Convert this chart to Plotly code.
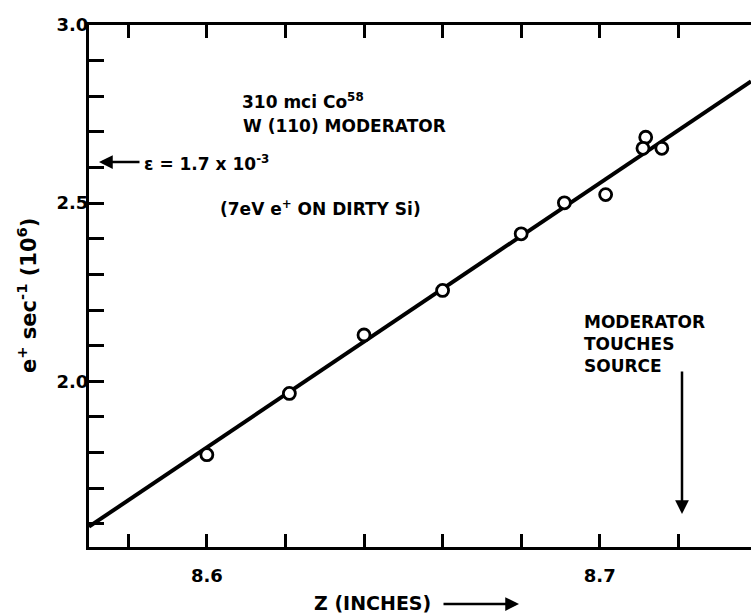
import plotly.graph_objects as go

# ---- data ----
z_points = [8.600, 8.621, 8.640, 8.660, 8.680, 8.691, 8.7015, 8.7117, 8.711, 8.7158]
rate_points = [1.794, 1.966, 2.130, 2.255, 2.414, 2.501, 2.524, 2.685, 2.654, 2.654]

fit_z = [8.570, 8.7385]
fit_rate = [1.592, 2.842]

x_tick_vals = [8.58, 8.60, 8.62, 8.64, 8.66, 8.68, 8.70, 8.72]
x_tick_text = ["", "8.6", "", "", "", "", "8.7", ""]
y_tick_vals = [1.6, 1.7, 1.8, 1.9, 2.0, 2.1, 2.2, 2.3, 2.4, 2.5, 2.6, 2.7, 2.8, 2.9, 3.0]
y_tick_text = ["", "", "", "", "2.0", "", "", "", "", "2.5", "", "", "", "", "3.0"]

x_range = [8.570, 8.7385]
y_range = [1.535, 3.0]

FONT = "DejaVu Sans"
INK = "black"

fig = go.Figure()
fig.add_trace(go.Scatter(
    x=fit_z, y=fit_rate, mode="lines",
    line=dict(color=INK, width=4), showlegend=False, cliponaxis=True))
fig.add_trace(go.Scatter(
    x=z_points, y=rate_points, mode="markers",
    marker=dict(symbol="circle", size=12, color="white",
                line=dict(color=INK, width=2.8)),
    showlegend=False, cliponaxis=False))

def px_to_paper(px, py):
    return (px - 89) / 662.0, (547 - py) / 522.0

anns = []
def text_ann(px, py, text, size=17, xanchor="left", textangle=0):
    x, y = px_to_paper(px, py)
    anns.append(dict(x=x, y=y, xref="paper", yref="paper", text=text,
                     showarrow=False, xanchor=xanchor, yanchor="middle",
                     textangle=textangle, align="left",
                     font=dict(family=FONT, size=size, color=INK, weight="bold")))

def arrow_ann(hx, hy, tx, ty):
    x, y = px_to_paper(hx, hy)
    anns.append(dict(x=x, y=y, xref="paper", yref="paper", text="",
                     showarrow=True, ax=tx - hx, ay=ty - hy,
                     arrowhead=2, arrowsize=1.1, arrowwidth=2.5, arrowcolor=INK,
                     standoff=0, startstandoff=0))

text_ann(240, 101, "310 mci Co<sup>58</sup>", size=17)
text_ann(241, 126, "W (110) MODERATOR", size=17)
text_ann(142, 163, "ε = 1.7 x 10<sup>-3</sup>", size=17)
arrow_ann(99, 162, 141, 162)
text_ann(218, 208, "(7eV e<sup>+</sup> ON DIRTY Si)", size=17)
text_ann(582, 344, "MODERATOR<br>TOUCHES<br>SOURCE", size=17)
arrow_ann(682, 514, 682, 370)
text_ann(27, 296, "e<sup>+</sup> sec<sup>-1</sup> (10<sup>6</sup>)", size=21, xanchor="center", textangle=-90)
text_ann(312, 603, "Z (INCHES)", size=19)
arrow_ann(519, 604, 442, 604)

fig.update_layout(
    width=751, height=616,
    margin=dict(l=89, r=0, t=25, b=69, autoexpand=False),
    paper_bgcolor="white", plot_bgcolor="white",
    annotations=anns,
    xaxis=dict(range=x_range, tickvals=x_tick_vals, ticktext=x_tick_text,
               ticks="inside", ticklen=13, tickwidth=2.5, tickcolor=INK,
               showline=True, linewidth=3, linecolor=INK, mirror="ticks",
               showgrid=False, zeroline=False, ticklabelstandoff=10,
               automargin=False,
               tickfont=dict(family=FONT, size=18, color=INK, weight="bold")),
    yaxis=dict(range=y_range, tickvals=y_tick_vals, ticktext=y_tick_text,
               ticks="inside", ticklen=15, tickwidth=2.5, tickcolor=INK,
               showline=True, linewidth=3, linecolor=INK, mirror=False,
               showgrid=False, zeroline=False, ticklabelstandoff=-6,
               automargin=False,
               tickfont=dict(family=FONT, size=18, color=INK, weight="bold")),
)

fig.write_html("out.html", config={"displayModeBar": False},
               post_script="document.body.style.margin='0';document.body.style.overflow='hidden';")
